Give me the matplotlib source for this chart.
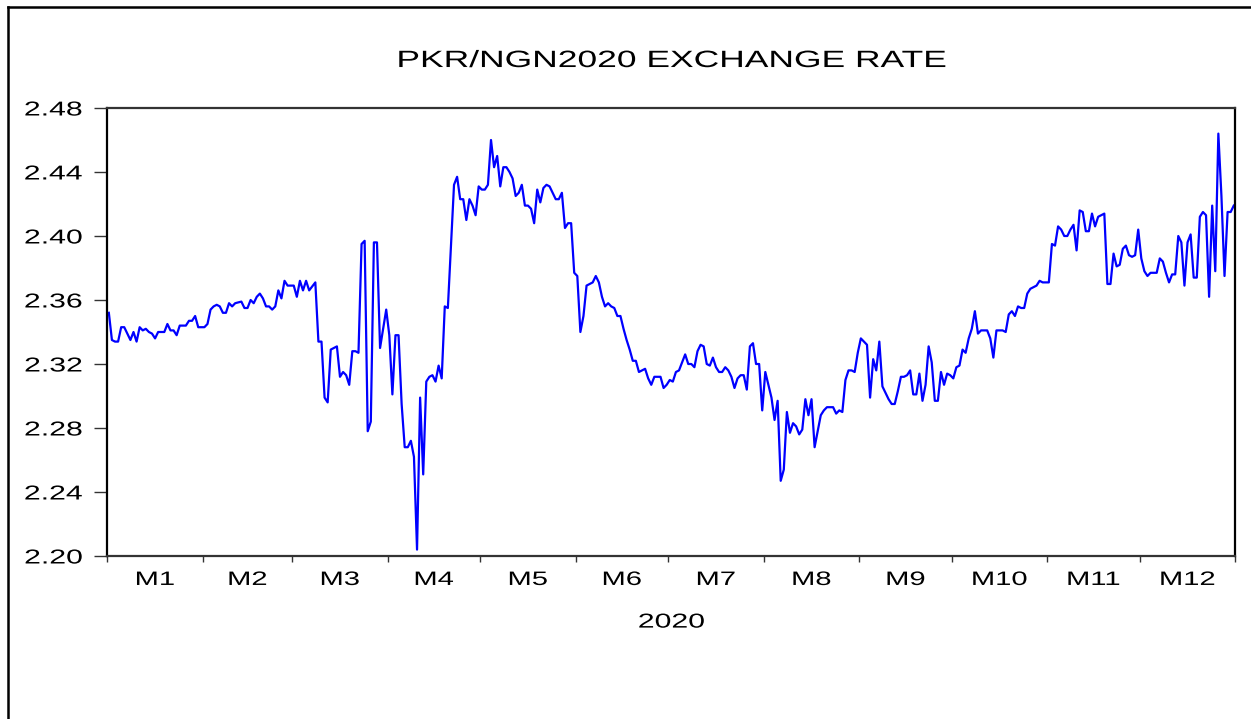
import numpy as np
import matplotlib
matplotlib.use('Agg')
import matplotlib.pyplot as plt
from matplotlib.lines import Line2D
from matplotlib.patheffects import AbstractPathEffect
from matplotlib.transforms import Affine2D

plt.rcParams['font.family'] = ['Liberation Sans', 'DejaVu Sans']

# day of year 2020 (0 = 1 Jan) and PKR/NGN rate
obs_day = [
    0, 1, 2, 3, 4, 5, 6, 7, 8, 9, 10, 11, 12, 13, 14, 15, 16, 18, 19, 20,
    21, 22, 23, 25, 26, 27, 28, 29, 31, 32, 33, 34, 35, 36, 37, 38, 39, 40, 41, 43,
    44, 45, 46, 47, 48, 49, 50, 51, 52, 53, 54, 55, 56, 57, 58, 60, 61, 62, 63, 64,
    65, 67, 68, 69, 70, 71, 72, 73, 74, 75, 76, 77, 78, 79, 80, 81, 82, 83, 84, 85,
    86, 87, 88, 89, 90, 91, 92, 93, 94, 95, 96, 97, 98, 99, 100, 101, 102, 103, 104, 105,
    106, 107, 108, 109, 110, 111, 112, 113, 114, 115, 116, 117, 118, 119, 120, 121, 122, 123, 124, 125,
    126, 127, 128, 129, 130, 131, 132, 133, 134, 135, 136, 137, 138, 139, 140, 141, 142, 143, 144, 145,
    146, 147, 148, 149, 150, 151, 152, 153, 154, 155, 156, 157, 158, 159, 160, 161, 162, 163, 164, 165,
    166, 167, 168, 169, 170, 171, 172, 173, 174, 175, 176, 177, 179, 180, 181, 182, 183, 184, 185, 186,
    187, 188, 189, 190, 191, 192, 193, 194, 195, 196, 197, 198, 199, 200, 201, 202, 203, 204, 205, 206,
    207, 208, 209, 210, 211, 212, 213, 214, 215, 216, 217, 218, 219, 220, 221, 222, 223, 224, 225, 226,
    227, 228, 229, 230, 231, 232, 233, 235, 236, 237, 238, 239, 240, 241, 242, 243, 244, 245, 246, 247,
    248, 249, 250, 251, 252, 253, 254, 255, 256, 257, 258, 259, 260, 261, 262, 263, 264, 265, 266, 267,
    268, 269, 270, 271, 272, 273, 274, 275, 276, 277, 278, 279, 280, 281, 282, 283, 284, 285, 286, 287,
    288, 290, 291, 292, 293, 294, 295, 296, 297, 298, 299, 300, 301, 302, 303, 305, 306, 307, 308, 309,
    310, 311, 312, 313, 314, 315, 316, 317, 318, 319, 320, 321, 322, 323, 324, 325, 326, 327, 328, 329,
    330, 331, 332, 333, 334, 335, 336, 337, 338, 340, 341, 342, 343, 344, 345, 346, 347, 348, 349, 350,
    351, 352, 353, 354, 355, 356, 357, 358, 359, 360, 361, 362, 363, 364, 365,
]
rate = [
    2.352, 2.335, 2.334, 2.334, 2.343, 2.343, 2.339, 2.335, 2.340, 2.334, 2.343, 2.341, 2.342, 2.340, 2.339, 2.336, 2.340, 2.340, 2.345, 2.341,
    2.341, 2.338, 2.344, 2.344, 2.347, 2.347, 2.350, 2.343, 2.343, 2.345, 2.354, 2.356, 2.357, 2.356, 2.352, 2.352, 2.358, 2.356, 2.358, 2.359,
    2.355, 2.355, 2.360, 2.358, 2.362, 2.364, 2.361, 2.356, 2.356, 2.354, 2.356, 2.366, 2.361, 2.372, 2.369, 2.369, 2.362, 2.372, 2.366, 2.372,
    2.366, 2.371, 2.334, 2.334, 2.299, 2.296, 2.329, 2.330, 2.331, 2.312, 2.315, 2.313, 2.307, 2.328, 2.328, 2.327, 2.395, 2.397, 2.278, 2.284,
    2.396, 2.396, 2.330, 2.342, 2.354, 2.338, 2.301, 2.338, 2.338, 2.295, 2.268, 2.268, 2.272, 2.262, 2.204, 2.299, 2.251, 2.309, 2.312, 2.313,
    2.309, 2.319, 2.311, 2.356, 2.355, 2.394, 2.432, 2.437, 2.423, 2.423, 2.410, 2.423, 2.419, 2.413, 2.431, 2.429, 2.429, 2.432, 2.460, 2.443,
    2.450, 2.431, 2.443, 2.443, 2.440, 2.436, 2.425, 2.427, 2.432, 2.419, 2.419, 2.417, 2.408, 2.429, 2.421, 2.430, 2.432, 2.431, 2.427, 2.423,
    2.423, 2.427, 2.405, 2.408, 2.408, 2.377, 2.375, 2.340, 2.350, 2.369, 2.370, 2.371, 2.375, 2.371, 2.362, 2.356, 2.358, 2.356, 2.355, 2.350,
    2.350, 2.342, 2.335, 2.329, 2.322, 2.322, 2.315, 2.316, 2.317, 2.311, 2.307, 2.312, 2.312, 2.305, 2.307, 2.310, 2.309, 2.315, 2.316, 2.321,
    2.326, 2.320, 2.320, 2.318, 2.328, 2.332, 2.331, 2.320, 2.319, 2.324, 2.318, 2.315, 2.315, 2.318, 2.316, 2.312, 2.305, 2.311, 2.313, 2.313,
    2.304, 2.331, 2.333, 2.320, 2.320, 2.291, 2.315, 2.307, 2.299, 2.285, 2.297, 2.247, 2.254, 2.290, 2.277, 2.283, 2.281, 2.276, 2.279, 2.298,
    2.288, 2.298, 2.268, 2.278, 2.288, 2.291, 2.293, 2.293, 2.289, 2.291, 2.290, 2.310, 2.316, 2.316, 2.315, 2.327, 2.336, 2.334, 2.332, 2.299,
    2.323, 2.316, 2.334, 2.306, 2.302, 2.298, 2.295, 2.295, 2.303, 2.312, 2.312, 2.313, 2.316, 2.301, 2.301, 2.314, 2.297, 2.307, 2.331, 2.321,
    2.297, 2.297, 2.315, 2.307, 2.314, 2.313, 2.311, 2.318, 2.319, 2.329, 2.327, 2.336, 2.342, 2.353, 2.339, 2.341, 2.341, 2.341, 2.336, 2.324,
    2.341, 2.341, 2.340, 2.351, 2.353, 2.350, 2.356, 2.355, 2.355, 2.364, 2.367, 2.368, 2.369, 2.372, 2.371, 2.371, 2.395, 2.394, 2.406, 2.404,
    2.400, 2.400, 2.404, 2.407, 2.391, 2.416, 2.415, 2.403, 2.403, 2.414, 2.406, 2.412, 2.413, 2.414, 2.370, 2.370, 2.389, 2.381, 2.382, 2.392,
    2.394, 2.388, 2.387, 2.388, 2.404, 2.386, 2.378, 2.375, 2.377, 2.377, 2.386, 2.384, 2.377, 2.371, 2.376, 2.376, 2.400, 2.396, 2.369, 2.396,
    2.401, 2.374, 2.374, 2.412, 2.415, 2.413, 2.362, 2.419, 2.378, 2.464, 2.425, 2.375, 2.415, 2.415, 2.419,
]

month_days = [31, 29, 31, 30, 31, 30, 31, 31, 30, 31, 30, 31]
month_labels = ['M1', 'M2', 'M3', 'M4', 'M5', 'M6', 'M7', 'M8', 'M9', 'M10', 'M11', 'M12']
y_ticks = [2.20, 2.24, 2.28, 2.32, 2.36, 2.40, 2.44, 2.48]
title = 'PKR/NGN2020 EXCHANGE RATE'
year_label = '2020'


class Widen(AbstractPathEffect):
    # the reference text is drawn wide, so stretch glyphs sideways
    def __init__(self, sx=1.5, anchor='center'):
        super().__init__()
        self.sx = sx
        self.anchor = anchor

    def draw_path(self, renderer, gc, tpath, affine, rgbFace=None):
        ext = tpath.get_extents()
        if self.anchor == 'right':
            px = ext.x1
        elif self.anchor == 'left':
            px = ext.x0
        else:
            px = 0.5 * (ext.x0 + ext.x1)
        t = Affine2D().translate(-px, 0).scale(self.sx, 1).translate(px, 0) + affine
        renderer.draw_path(gc, tpath, t, rgbFace)


W, H = 1251, 719
fig = plt.figure(figsize=(W / 100, H / 100), dpi=100)
ax = fig.add_axes([107.3 / W, 1 - 556 / H, (1235.3 - 107.3) / W, (556 - 108) / H])

ax.plot(obs_day, rate, color='#0000ff', lw=1.6)

edges = np.concatenate([[0], np.cumsum(month_days)]) - 0.5
mids = 0.5 * (edges[:-1] + edges[1:])
ax.set_xlim(edges[0], edges[-1])
ax.set_ylim(2.20, 2.48)

ax.set_yticks(y_ticks, labels=['%.2f' % v for v in y_ticks])
ax.set_xticks(edges, labels=[''] * len(edges))
ax.set_xticks(mids, labels=month_labels, minor=True)

ax.tick_params(axis='y', which='major', direction='out', length=9.5, width=1.0,
               color='#333333', pad=8.5, labelsize=14.5)
ax.tick_params(axis='x', which='major', direction='out', length=4, width=1.0,
               color='#333333')
ax.tick_params(axis='x', which='minor', length=0, pad=11.5, labelsize=14)

for side in ['left', 'right']:
    ax.spines[side].set_linewidth(1.6)
    ax.spines[side].set_color('black')
for side in ['top', 'bottom']:
    ax.spines[side].set_linewidth(1.6)
    ax.spines[side].set_color('#333333')

ax.set_title(title, fontsize=17, pad=29.5, path_effects=[Widen(1.5, 'center')])
ax.set_xlabel(year_label, fontsize=14.5, labelpad=17,
              path_effects=[Widen(1.5, 'center')])

for lab in ax.get_yticklabels():
    lab.set_path_effects([Widen(1.5, 'right')])
for lab in ax.get_xticklabels(minor=True):
    lab.set_path_effects([Widen(1.5, 'center')])

# outer frame, cut off on the right and bottom
fig.add_artist(Line2D([8 / W, 8 / W], [0, 1 - 7 / H], color='black', lw=1.8))
fig.add_artist(Line2D([8 / W, 1], [1 - 7 / H, 1 - 7 / H], color='black', lw=1.8))

fig.savefig('out.png', dpi=100)
